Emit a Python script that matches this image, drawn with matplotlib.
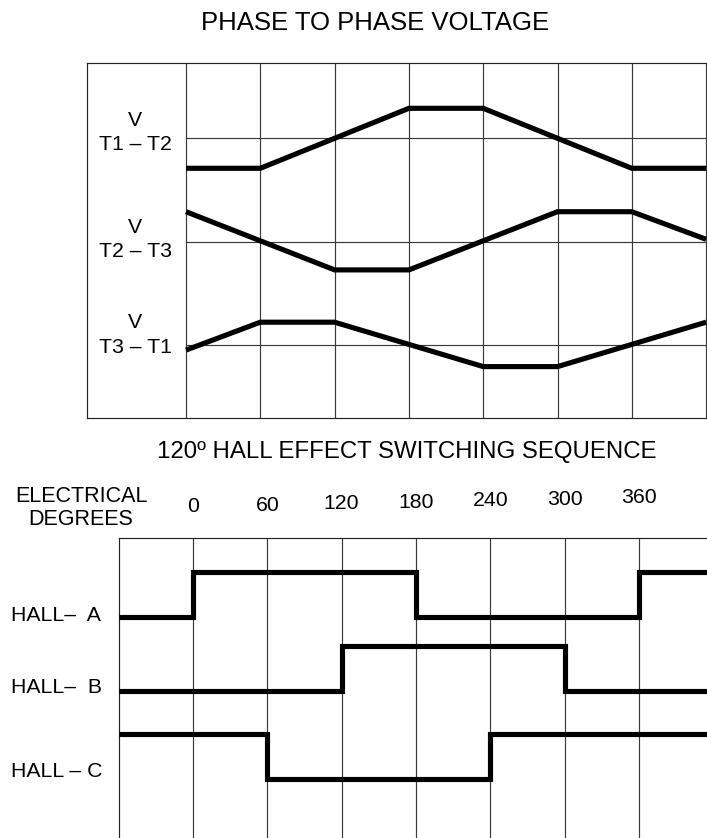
import matplotlib
matplotlib.use('Agg')
import matplotlib.pyplot as plt
from matplotlib.transforms import blended_transform_factory

plt.rcParams['font.family'] = ['Liberation Sans', 'DejaVu Sans']

# ---------------- data ----------------
phase_names = ['T1 – T2', 'T2 – T3', 'T3 – T1']
t12_deg = [0, 60, 180, 240, 360, 420]
t12_val = [-1.0, -1.0, 1.0, 1.0, -1.0, -1.0]
t23_deg = [0, 120, 180, 300, 360, 420]
t23_val = [1.0, -0.94, -0.94, 1.0, 1.0, 0.08]
t31_deg = [0, 60, 120, 240, 300, 420]
t31_val = [-0.17, 0.76, 0.76, -0.72, -0.72, 0.76]

hall_names = ['HALL–  A', 'HALL–  B', 'HALL – C']
seg_deg = [-60, 0, 60, 120, 180, 240, 300, 360, 420]
hall_a = [0, 1, 1, 1, 0, 0, 0, 1, 1]
hall_b = [0, 0, 0, 1, 1, 1, 0, 0, 0]
hall_c = [1, 1, 0, 0, 0, 1, 1, 1, 1]

deg_ticks = [0, 60, 120, 180, 240, 300, 360]
deg_labels = ['0', '60', '120', '180', '240', '300', '360']
grid_deg = [0, 60, 120, 180, 240, 300, 360, 420]

# ---------------- layout ----------------
W, H = 707, 838
fig = plt.figure(figsize=(W / 100, H / 100), dpi=100)
fig.patch.set_facecolor('white')


def fx(x):
    return x / W


def fy(y):
    return 1 - y / H


K = 60 / 74.3  # degrees per pixel
GRID_C = '#3a3a3a'
GRID_LW = 0.85
WAVE_LW = 3.7
LAB_FS = 15.3

# ---- top panel ----
top_px, bot_px, left_px = 63.3, 418.5, 87
row_px = [138.3, 241.7, 345.0]
unit = 30.0
ax1 = fig.add_axes([fx(left_px), fy(bot_px), fx(W) - fx(left_px), (bot_px - top_px) / H])
ax1.set_xlim((left_px - 186) * K, (W - 186) * K)
ax1.set_ylim((row_px[0] - bot_px) / unit, (row_px[0] - top_px) / unit)
offsets = [(row_px[0] - r) / unit for r in row_px]

for d in grid_deg:
    ax1.axvline(d, color=GRID_C, lw=GRID_LW, zorder=1)
for off in offsets:
    ax1.plot([0, ax1.get_xlim()[1]], [off, off], color=GRID_C, lw=GRID_LW, zorder=1)

for degs, vals, off in zip([t12_deg, t23_deg, t31_deg], [t12_val, t23_val, t31_val], offsets):
    ax1.plot(degs, [v + off for v in vals], color='black', lw=WAVE_LW,
             solid_joinstyle='miter', solid_capstyle='butt', zorder=3)

ax1.set_xticks([])
ax1.set_yticks([])
for s in ['left', 'top', 'bottom']:
    ax1.spines[s].set_color('#222222')
    ax1.spines[s].set_linewidth(GRID_LW)
ax1.spines['right'].set_visible(False)

# row labels
v_base = [126, 233, 328]
t_base = [150, 257, 353]
for name, vb, tb in zip(phase_names, v_base, t_base):
    fig.text(fx(135), fy(vb), 'V', ha='center', va='baseline', fontsize=LAB_FS)
    fig.text(fx(135.5), fy(tb), name, ha='center', va='baseline', fontsize=LAB_FS)

# ---- bottom panel ----
b_top, b_left = 538, 119
unit2 = 45.0
ax2 = fig.add_axes([fx(b_left), 0, fx(W) - fx(b_left), (H - b_top) / H])
ax2.set_xlim((b_left - 193) * K, (W - 193) * K)
ax2.set_ylim(0, (H - b_top) / unit2)
bases = [(H - 616.7) / unit2, (H - 690.7) / unit2, (H - 779.3) / unit2]

for d in grid_deg:
    ax2.axvline(d, color=GRID_C, lw=GRID_LW, zorder=1)
for vals, base in zip([hall_a, hall_b, hall_c], bases):
    ax2.step(seg_deg, [v + base for v in vals], where='post', color='black', lw=WAVE_LW,
             solid_joinstyle='miter', solid_capstyle='butt', zorder=3)

ax2.set_xticks([])
ax2.set_yticks([])
for s in ['left', 'top']:
    ax2.spines[s].set_color('#222222')
    ax2.spines[s].set_linewidth(GRID_LW)
ax2.spines['right'].set_visible(False)
ax2.spines['bottom'].set_visible(False)

trans = blended_transform_factory(ax2.transData, fig.transFigure)
for d, lab in zip(deg_ticks, deg_labels):
    base_px = 512 - 9 * d / 360
    ax2.text(d, fy(base_px), lab, transform=trans, ha='center', va='baseline', fontsize=LAB_FS)

hall_base_px = [621, 693, 777]
for name, b in zip(hall_names, hall_base_px):
    fig.text(fx(11), fy(b), name, ha='left', va='baseline', fontsize=LAB_FS)

# titles
fig.text(fx(375), fy(30), 'PHASE TO PHASE VOLTAGE', ha='center', va='baseline', fontsize=18.5)
fig.text(fx(407), fy(458), '120º HALL EFFECT SWITCHING SEQUENCE', ha='center', va='baseline', fontsize=17.3)
fig.text(fx(81.5), fy(502), 'ELECTRICAL', ha='center', va='baseline', fontsize=15.5)
fig.text(fx(80.5), fy(525), 'DEGREES', ha='center', va='baseline', fontsize=15.5)

fig.savefig('out.png', dpi=100, facecolor='white')
